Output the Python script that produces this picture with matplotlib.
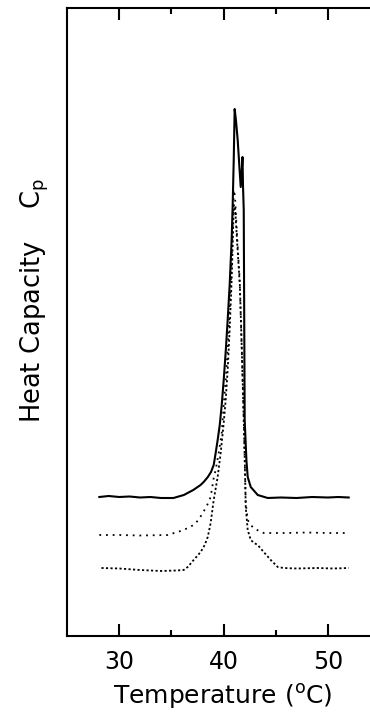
import matplotlib
matplotlib.use('Agg')
import matplotlib.pyplot as plt
from matplotlib.ticker import FixedLocator

# traced DSC scans (temperature in C, heat capacity in arbitrary units)
solid_t = [28.1, 29.0, 30.0, 31.0, 32.0, 33.0, 34.0, 35.2, 36.2, 37.1, 37.8, 38.1,
           38.5, 38.8, 39.06, 39.25, 39.44, 39.64, 39.83, 40.02, 40.21, 40.4, 40.59,
           40.78, 40.88, 40.98, 41.07, 41.2, 41.36, 41.55, 41.65, 41.75, 41.82, 41.87,
           41.94, 41.97, 42.03, 42.2, 42.32, 42.61, 43.28, 44.24, 45.5, 47.0, 48.5,
           50.0, 51.0, 52.0]
solid_h = [13.9, 14.0, 13.9, 13.95, 13.85, 13.9, 13.8, 13.8, 14.1, 14.6, 15.1, 15.4,
           15.9, 16.4, 17.1, 18.3, 19.6, 21.1, 23.1, 25.6, 28.4, 31.6, 35.1,
           39.6, 43.1, 47.6, 52.7, 51.5, 49.6, 46.5, 44.9, 46.5, 47.9, 45.0,
           42.6, 35.6, 21.6, 17.5, 15.9, 14.9, 14.1, 13.8, 13.85, 13.8, 13.9,
           13.85, 13.9, 13.85]

dot_t = [28.1, 30.0, 32.0, 34.65, 34.94, 35.6, 36.18, 37.14, 37.6, 38.01, 38.4,
         38.77, 39.06, 39.25, 39.54, 39.83, 40.02, 40.21, 40.4, 40.59, 40.78, 40.88,
         40.98, 41.1, 41.3, 41.55, 41.74, 41.94, 42.05, 42.13, 42.32, 42.6, 42.9,
         43.4, 43.85, 46.0, 48.0, 50.0, 52.0]
dot_h = [10.1, 10.1, 10.05, 10.1, 10.2, 10.4, 10.6, 11.1, 11.6, 12.3, 13.0,
         13.9, 15.8, 16.6, 18.3, 20.3, 23.1, 25.6, 28.6, 32.6, 37.6, 41.1,
         44.6, 44.0, 40.0, 35.6, 28.9, 21.6, 17.0, 13.3, 11.6, 11.1, 10.8,
         10.5, 10.3, 10.3, 10.35, 10.3, 10.3]

dash_t = [28.3, 30.0, 32.0, 34.0, 35.5, 36.18, 36.57, 37.14, 37.81, 38.2, 38.49,
          38.77, 39.06, 39.44, 39.73, 40.02, 40.21, 40.4, 40.59, 40.78, 40.88, 40.98,
          41.1, 41.3, 41.57, 41.76, 41.95, 42.05, 42.13, 42.32, 42.61, 42.95, 43.28,
          43.85, 44.53, 45.2, 45.77, 47.0, 49.0, 50.5, 52.0]
dash_h = [6.8, 6.75, 6.6, 6.5, 6.55, 6.6, 6.9, 7.6, 8.4, 9.1, 9.9,
          11.3, 13.6, 15.9, 18.3, 21.3, 23.6, 26.6, 30.6, 35.6, 39.1, 43.1,
          43.0, 39.5, 35.0, 28.5, 21.3, 17.0, 12.9, 10.6, 9.6, 9.3, 9.1,
          8.4, 7.6, 6.9, 6.8, 6.75, 6.8, 6.75, 6.8]

major_ticks = [30, 40, 50]
minor_ticks = [35, 45]

plt.rcParams['font.family'] = ['DejaVu Sans']

fig = plt.figure(figsize=(3.70, 7.12), dpi=100)
ax = fig.add_axes([67 / 370, 76 / 712, 313 / 370, 628 / 712])

ax.plot(dash_t, dash_h, color='black', lw=1.3, linestyle=(0, (1.2, 1.3)))
ax.plot(dot_t, dot_h, color='black', lw=1.3, linestyle=(0, (1.0, 2.7)))
ax.plot(solid_t, solid_h, color='black', lw=1.5)

ax.set_xlim(25, 55)
ax.set_ylim(0, 62.8)

ax.xaxis.set_major_locator(FixedLocator(major_ticks))
ax.xaxis.set_minor_locator(FixedLocator(minor_ticks))
ax.tick_params(axis='x', which='both', direction='in', top=True, bottom=True,
               width=1.5, labelsize=17, pad=10)
ax.tick_params(axis='x', which='major', length=8.5)
ax.tick_params(axis='x', which='minor', length=4.5)
ax.set_yticks([])

for side in ['left', 'bottom', 'top']:
    ax.spines[side].set_linewidth(1.5)
ax.spines['right'].set_visible(False)

ax.set_xlabel('Temperature ($^{\\rm o}$C)', fontsize=18)
ax.xaxis.set_label_coords(0.497, -0.073)
ax.set_ylabel('Heat Capacity    C$_{\\rm p}$', fontsize=18.5)
ax.yaxis.set_label_coords(-0.05, 0.535)

fig.savefig('out.png', dpi=100)
